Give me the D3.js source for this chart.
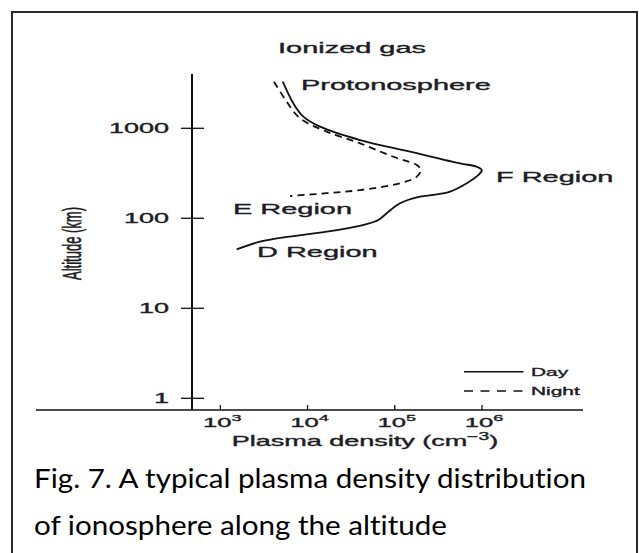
<!DOCTYPE html>
<html>
<head>
<meta charset="utf-8">
<script src="https://cdn.jsdelivr.net/npm/d3@7"></script>
<style>
  html, body { margin: 0; padding: 0; background: #fff; }
  svg { display: block; }
</style>
</head>
<body>
<svg id="chart" width="639" height="553"></svg>
<script>
// ---------------- data ----------------
const densityTicks = [1e3, 1e4, 1e5, 1e6];
const densityExponents = ["3", "4", "5", "6"];
const altitudeTicks = [1, 10, 100, 1000];
const altitudeLabels = ["1", "10", "100", "1000"];

const seriesNames = ["Day", "Night"];

// Day profile (density cm^-3, altitude km), top to bottom
const dayDensity  = [5200, 6870, 8950, 13900, 40000, 150000, 561000, 871000, 995000, 910000, 670000, 431000, 277000, 195000, 115000, 80900, 64900, 47700, 16600, 4440, 2850, 1540];
const dayAltitude = [3295, 1896, 1346, 1042, 741, 550, 408, 374, 344, 303, 245, 198, 182, 174, 147, 114, 95.7, 86.4, 71, 60, 55, 45.2];

// Night profile
const nightDensity  = [4130, 5770, 8200, 16600, 40000, 96400, 163000, 179000, 199000, 179000, 115000, 40000, 16600, 6300];
const nightAltitude = [3295, 1976, 1292, 917, 681, 483, 408, 391, 344, 290, 245, 206, 190, 177];

const regionLabels = ["Protonosphere", "F Region", "E Region", "D Region"];
const topLabel = "Ionized gas";
const yTitle = "Altitude (km)";
const xTitle = "Plasma density (cm";
const xTitleSup = "\u22123";
const captionLines = ["Fig. 7. A typical plasma density distribution", "of ionosphere along the altitude"];

// ---------------- layout ----------------
const svg = d3.select("#chart");
const FONT = "'Liberation Sans', Arial, Helvetica, sans-serif";
const INK = "#1c1c24";
const SX = 1.93; // horizontal stretch of figure text

const x = d3.scaleLog().domain([1e3, 1e6]).range([220.3, 482]);
const y = d3.scaleLog().domain([1, 1000]).range([398.3, 128.3]);

const axisX = 192, axisBottom = 410;

// border
svg.append("rect").attr("x", 12).attr("y", 12).attr("width", 625).attr("height", 560)
  .attr("fill", "#fff").attr("stroke", "#2a2a2a").attr("stroke-width", 2);

function stext(px, py, str, size, anchor, sx) {
  return svg.append("text")
    .attr("transform", `translate(${px},${py}) scale(${sx || SX},1)`)
    .attr("text-anchor", anchor || "start")
    .style("font-family", FONT).style("font-size", size + "px")
    .attr("fill", INK).attr("stroke", INK).attr("stroke-width", 0.35)
    .text(str);
}

// axes lines
svg.append("line").attr("x1", axisX).attr("x2", axisX).attr("y1", 74).attr("y2", axisBottom)
  .attr("stroke", "#111").attr("stroke-width", 2);
svg.append("line").attr("x1", 36).attr("x2", 583).attr("y1", axisBottom).attr("y2", axisBottom)
  .attr("stroke", "#111").attr("stroke-width", 1.6);

// y ticks
altitudeTicks.forEach((v, i) => {
  svg.append("line").attr("x1", axisX - 11).attr("x2", axisX + 12)
    .attr("y1", y(v)).attr("y2", y(v)).attr("stroke", "#111").attr("stroke-width", 1.3);
  stext(169, y(v) + 5, altitudeLabels[i], 14, "end");
});

// x ticks
densityTicks.forEach((v, i) => {
  svg.append("line").attr("x1", x(v)).attr("x2", x(v))
    .attr("y1", axisBottom - 5).attr("y2", axisBottom).attr("stroke", "#111").attr("stroke-width", 1.3);
  const t = stext(x(v) + 2, 426.5, "", 13.5, "middle", 1.9);
  t.append("tspan").text("10");
  t.append("tspan").attr("dy", -6).style("font-size", "9.5px").text(densityExponents[i]);
});

// x title
{
  const t = stext(365, 446, "", 14, "middle", 1.93);
  t.append("tspan").text(xTitle);
  t.append("tspan").attr("dy", -6).style("font-size", "10px").text(xTitleSup);
  t.append("tspan").attr("dy", 6).text(")");
}

// y title (rotated)
svg.append("text")
  .attr("transform", `translate(81,243.5) scale(2.05,1) rotate(-90)`)
  .attr("text-anchor", "middle")
  .style("font-family", FONT).style("font-size", "13px")
  .attr("fill", INK).attr("stroke", INK).attr("stroke-width", 0.3).text(yTitle);

// top label
stext(278, 52.7, topLabel, 15, "start");

// region labels
stext(301, 90, regionLabels[0], 15, "start");
stext(496, 182, regionLabels[1], 15, "start");
stext(233, 213.5, regionLabels[2], 15, "start");
stext(257, 256.7, regionLabels[3], 15, "start");

// curves
const line = d3.line().x(d => x(d[0])).y(d => y(d[1])).curve(d3.curveCatmullRom.alpha(0.5));
const dayData = dayDensity.map((d, i) => [d, dayAltitude[i]]);
const nightData = nightDensity.map((d, i) => [d, nightAltitude[i]]);

svg.append("path").datum(dayData).attr("d", line)
  .attr("fill", "none").attr("stroke", "#111").attr("stroke-width", 1.8);
svg.append("path").datum(nightData).attr("d", line)
  .attr("fill", "none").attr("stroke", "#111").attr("stroke-width", 1.8)
  .attr("stroke-dasharray", "7,5");

// legend
const legendY = [371.7, 391];
seriesNames.forEach((name, i) => {
  const l = svg.append("line").attr("x1", 464).attr("x2", 523.5)
    .attr("y1", legendY[i]).attr("y2", legendY[i]).attr("stroke", "#111").attr("stroke-width", 1.6);
  if (i === 1) l.attr("stroke-dasharray", "9,7.5");
  stext(531, legendY[i] + 4, name, 11, "start", 1.9);
});

// caption
const capY = [487.5, 535];
const capLen = [552, 413];
captionLines.forEach((s, i) => {
  svg.append("text").attr("x", 34).attr("y", capY[i])
    .attr("textLength", capLen[i]).attr("lengthAdjust", "spacingAndGlyphs")
    .style("font-family", "Lato, 'Open Sans', sans-serif").style("font-size", "26.5px")
    .style("font-variant-ligatures", "none").style("font-feature-settings", "'liga' 0")
    .attr("fill", "#000").text(s);
});
</script>
</body>
</html>
